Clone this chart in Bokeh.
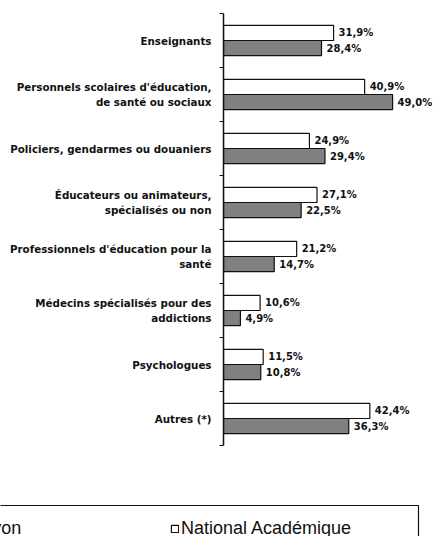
from bokeh.plotting import figure
from bokeh.layouts import column
from bokeh.models import (ColumnDataSource, FixedTicker, Legend, LegendItem,
                          BoxAnnotation, Range1d, LabelSet)
from bokeh.core.properties import value
from bokeh.embed import file_html
from bokeh.resources import INLINE

categories = [
    "Enseignants",
    "Personnels scolaires d'éducation,\nde santé ou sociaux",
    "Policiers, gendarmes ou douaniers",
    "Éducateurs ou animateurs,\nspécialisés ou non",
    "Professionnels d'éducation pour la\nsanté",
    "Médecins spécialisés pour des\naddictions",
    "Psychologues",
    "Autres (*)",
]
national = [31.9, 40.9, 24.9, 27.1, 21.2, 10.6, 11.5, 42.4]
lyon = [28.4, 49.0, 29.4, 22.5, 14.7, 4.9, 10.8, 36.3]
series_names = ["Lyon", "National Académique"]
colors = ["#808080", "white"]

n = len(categories)
centers = [n - i - 0.5 for i in range(n)]
bar_h = 0.28
off = 0.14

def fmt(v):
    return f"{v:.1f}".replace(".", ",") + "%"

src_n = ColumnDataSource(dict(y=[c + off for c in centers], v=national,
                              lab=[fmt(v) for v in national]))
src_l = ColumnDataSource(dict(y=[c - off for c in centers], v=lyon,
                              lab=[fmt(v) for v in lyon]))

p = figure(width=438, height=448, output_backend="svg", toolbar_location=None,
           x_range=Range1d(0, 62.3), y_range=Range1d(0, n),
           min_border_left=223, min_border_right=0, min_border_top=13,
           min_border_bottom=3)
p.frame_align = False
p.outline_line_color = None
p.grid.visible = False
p.xaxis.visible = False

r_n = p.hbar(y="y", right="v", left=0, height=bar_h, source=src_n,
             fill_color=colors[1], line_color="#111111", line_width=1.2)
r_l = p.hbar(y="y", right="v", left=0, height=bar_h, source=src_l,
             fill_color=colors[0], line_color="#111111", line_width=1.2)

for src in (src_n, src_l):
    p.add_layout(LabelSet(x="v", y="y", text="lab", source=src, x_offset=5,
                          text_baseline="middle", text_font=value("DejaVu Sans"),
                          text_font_size="10px", text_font_style="bold",
                          text_color="#111111"))

yax = p.yaxis[0]
yax.ticker = FixedTicker(ticks=centers, minor_ticks=[float(k) for k in range(n + 1)])
yax.major_label_overrides = {c: lab for c, lab in zip(centers, categories)}
yax.major_tick_out = 0
yax.major_tick_in = 0
yax.minor_tick_out = 4
yax.minor_tick_in = 0
yax.minor_tick_line_color = "#111111"
yax.axis_line_color = "#111111"
yax.axis_line_width = 1.5
yax.major_label_standoff = 8
yax.major_label_text_font = "DejaVu Sans"
yax.major_label_text_font_size = "10.3px"
yax.major_label_text_font_style = "bold"
yax.major_label_text_color = "#111111"

# legend strip (its frame covers the whole strip so nothing is clipped but the page edge)
q = figure(width=438, height=88, output_backend="svg", toolbar_location=None,
           x_range=Range1d(0, 1), y_range=Range1d(0, 1),
           x_axis_type=None, y_axis_type=None,
           min_border_left=0, min_border_right=0, min_border_top=0,
           min_border_bottom=0)
q.frame_align = False
q.outline_line_color = None
q.grid.visible = False
# hidden copies of the two series: only used for the legend swatches
g_l = q.hbar(y="y", right="v", left=0, height=bar_h, source=src_l,
             fill_color=colors[0], line_color="#111111", line_width=1.2,
             visible=False)
g_n = q.hbar(y="y", right="v", left=0, height=bar_h, source=src_n,
             fill_color=colors[1], line_color="#111111", line_width=1.2,
             visible=False)

common = dict(orientation="horizontal", glyph_width=9, glyph_height=9,
              label_standoff=2, padding=12, spacing=0,
              label_text_font="Liberation Sans", label_text_font_size="18px",
              label_text_color="#111111", border_line_alpha=0,
              background_fill_alpha=0, inactive_fill_alpha=0)
q.add_layout(Legend(items=[LegendItem(label=series_names[0], renderers=[g_l])],
                    location=(-40, -15), **common), "center")
q.add_layout(Legend(items=[LegendItem(label=series_names[1], renderers=[g_n])],
                    location=(158, -15), **common), "center")

q.add_layout(BoxAnnotation(left=-20, right=418, top=31, bottom=-12,
                           left_units="screen", right_units="screen",
                           top_units="screen", bottom_units="screen",
                           fill_alpha=0, line_color="#111111", line_alpha=1,
                           line_width=1.2))

layout = column(p, q, spacing=0)
open("out.html", "w").write(file_html(layout, INLINE))
